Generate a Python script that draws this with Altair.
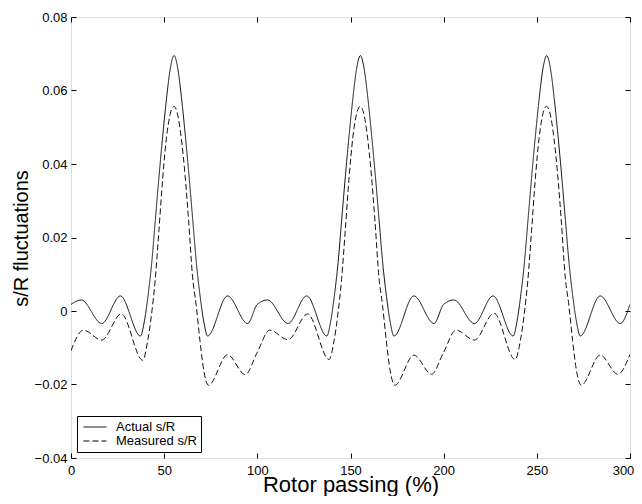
import altair as alt
import pandas as pd

FONT = "Liberation Sans"

series_names = ["Actual s/R", "Measured s/R"]
x_ticks = [0, 50, 100, 150, 200, 250, 300]
y_ticks = [-0.04, -0.02, 0.0, 0.02, 0.04, 0.06, 0.08]

actual_x = [
    0, 5.5, 16.5, 26.5, 37.3, 39.3, 41.3, 43.3, 45.3, 47.3, 49.3, 51.3, 53.3,
    55.3, 57.3, 59.3, 61.3, 63.3, 65.3, 67.3, 69.3, 71.3, 73.3, 84, 94.8,
    100, 105.5, 116.5, 126.5, 137.3, 139.3, 141.3, 143.3, 145.3, 147.3, 149.3, 151.3, 153.3,
    155.3, 157.3, 159.3, 161.3, 163.3, 165.3, 167.3, 169.3, 171.3, 173.3, 184, 194.8,
    200, 205.5, 216.5, 226.5, 237.3, 239.3, 241.3, 243.3, 245.3, 247.3, 249.3, 251.3, 253.3,
    255.3, 257.3, 259.3, 261.3, 263.3, 265.3, 267.3, 269.3, 271.3, 273.3, 284, 294.8,
    300,
]
actual_y = [
    0.0018, 0.0030, -0.0034, 0.0041, -0.0068, -0.0030, 0.0040, 0.0130, 0.0250, 0.0370, 0.0480, 0.0580, 0.0660,
    0.0695, 0.0660, 0.0580, 0.0480, 0.0370, 0.0250, 0.0130, 0.0040, -0.0030, -0.0068, 0.0041, -0.0034,
    0.0018, 0.0030, -0.0034, 0.0041, -0.0068, -0.0030, 0.0040, 0.0130, 0.0250, 0.0370, 0.0480, 0.0580, 0.0660,
    0.0695, 0.0660, 0.0580, 0.0480, 0.0370, 0.0250, 0.0130, 0.0040, -0.0030, -0.0068, 0.0041, -0.0034,
    0.0018, 0.0030, -0.0034, 0.0041, -0.0068, -0.0030, 0.0040, 0.0130, 0.0250, 0.0370, 0.0480, 0.0580, 0.0660,
    0.0695, 0.0660, 0.0580, 0.0480, 0.0370, 0.0250, 0.0130, 0.0040, -0.0030, -0.0068, 0.0041, -0.0034,
    0.0018,
]

measured_x = [
    0, 6.6, 16.5, 27, 38.5, 41.2, 43.2, 45.2, 47.2, 49.2, 51.2, 53.2, 55.2,
    57.2, 59.2, 61.2, 63.2, 65.2, 67.2, 69.2, 71.2, 73.8, 84, 93.5,
    100, 106.6, 116.5, 127, 138.5, 141.2, 143.2, 145.2, 147.2, 149.2, 151.2, 153.2, 155.2,
    157.2, 159.2, 161.2, 163.2, 165.2, 167.2, 169.2, 171.2, 173.8, 184, 193.5,
    200, 206.6, 216.5, 227, 238.3, 241.2, 243.2, 245.2, 247.2, 249.2, 251.2, 253.2, 255.2,
    257.2, 259.2, 261.2, 263.2, 265.2, 267.2, 269.2, 271.2, 273.8, 284, 293.5,
    300,
]
measured_y = [
    -0.0108, -0.0052, -0.0079, -0.0008, -0.0134, -0.0080, -0.0010, 0.0085, 0.0220, 0.0360, 0.0470, 0.0535, 0.0557,
    0.0535, 0.0470, 0.0370, 0.0240, 0.0095, 0.0015, -0.0080, -0.0160, -0.0202, -0.0119, -0.0173,
    -0.0112, -0.0052, -0.0078, -0.0008, -0.0132, -0.0080, -0.0010, 0.0085, 0.0220, 0.0360, 0.0470, 0.0535, 0.0557,
    0.0535, 0.0470, 0.0370, 0.0240, 0.0095, 0.0015, -0.0080, -0.0160, -0.0202, -0.0120, -0.0172,
    -0.0112, -0.0052, -0.0079, -0.0006, -0.0132, -0.0080, -0.0010, 0.0085, 0.0220, 0.0360, 0.0470, 0.0535, 0.0557,
    0.0535, 0.0470, 0.0370, 0.0240, 0.0095, 0.0015, -0.0080, -0.0160, -0.0202, -0.0120, -0.0172,
    -0.0118,
]

df = pd.concat([
    pd.DataFrame({"x": actual_x, "y": actual_y, "series": series_names[0]}),
    pd.DataFrame({"x": measured_x, "y": measured_y, "series": series_names[1]}),
], ignore_index=True)

x_scale = alt.Scale(domain=[0, 300], nice=False, zero=False)
y_scale = alt.Scale(domain=[-0.04, 0.08], nice=False, zero=False)

tick_axis = dict(
    domain=False, grid=False, tickSize=5, offset=-5, tickColor="black", tickWidth=1,
    labelFont=FONT, labelFontSize=13, labelColor="black",
)
title_style = dict(titleFont=FONT, titleFontWeight="normal", titleColor="black")

lines = alt.Chart(df).mark_line(interpolate="monotone", color="#111", strokeWidth=1, clip=True).encode(
    x=alt.X("x:Q", scale=x_scale, axis=alt.Axis(
        orient="bottom", values=x_ticks, labelPadding=6, labelFlush=False,
        labelOffset={"condition": {"test": "datum.value == 300", "value": -7}, "value": 0},
        title="Rotor passing (%)", titleFontSize=22, titleY=38, titleBaseline="alphabetic",
        **title_style, **tick_axis)),
    y=alt.Y("y:Q", scale=y_scale, axis=alt.Axis(
        orient="left", values=y_ticks, labelPadding=4, labelFlush=False,
        labelExpr="datum.value == 0 ? '0' : format(datum.value, '.2f')",
        title="s/R fluctuations", titleFontSize=20, titleX=-49, titleY=221, titleAngle=270,
        titleBaseline="alphabetic", titleAlign="center", **title_style, **tick_axis)),
    strokeDash=alt.StrokeDash("series:N", scale=alt.Scale(domain=series_names, range=[[1, 0], [6, 3]]),
        legend=alt.Legend(
            title=None, orient="bottom-left", offset=6, strokeColor="black", fillColor="white",
            padding=4, rowPadding=0, symbolType="M-0.7,0H2.85", symbolSize=169, symbolStrokeWidth=1,
            symbolStrokeColor="black", symbolFillColor="transparent",
            labelFont=FONT, labelFontSize=13, labelColor="black",
            labelOffset=21, cornerRadius=0,
            labelExpr="datum.label == 'Measured s/R' ? '\u00a0Measured s/R\u00a0\u00a0' : datum.label")),
)

mirror = alt.Chart(df).mark_line(strokeOpacity=0).encode(
    x=alt.X("x:Q", scale=x_scale, axis=alt.Axis(
        orient="top", values=x_ticks, labels=False, title=None, **tick_axis)),
    y=alt.Y("y:Q", scale=y_scale, axis=alt.Axis(
        orient="right", values=y_ticks, labels=False, title=None, **tick_axis)),
)

chart = alt.layer(lines, mirror).resolve_axis(x="independent", y="independent").properties(
    width=559, height=441,
    autosize=alt.AutoSizeParams(type="none"),
    padding={"left": 63, "top": 9, "right": 4, "bottom": 38},
).configure_view(stroke="black", strokeWidth=1).configure(background="white")

chart.save("out.html", embed_options={"renderer": "svg", "actions": False})
